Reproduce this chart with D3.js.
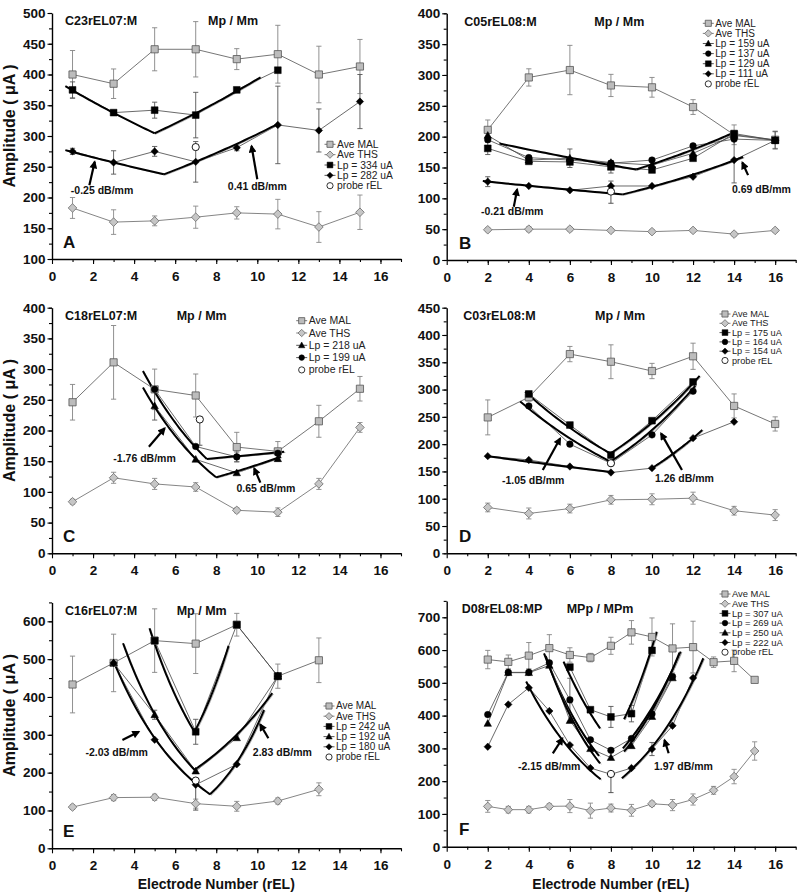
<!DOCTYPE html>
<html><head><meta charset="utf-8">
<script src="https://cdn.jsdelivr.net/npm/d3@7"></script>
<style>
body{margin:0;background:#fff;}
svg{display:block;font-family:"Liberation Sans",Arial,Helvetica,sans-serif;}
</style></head><body>
<svg id="chart" width="800" height="896"></svg>
<script>
// ================= DATA =================
// ---- Panel A ----
const A_el = [1,3,5,7,9,11,13,15];
const A_mal = [400,385,441,441,425,433,400,413];
const A_malErr = [39,24,35,45,17,47,46,44];
const A_ths = [183,160,162,168,175,173,152,176];
const A_thsErr = [17,20,8,18,10,24,25,28];
const A_lp334El = [1,3,5,7,9,11];
const A_lp334 = [375,338,342,334,375,407];
const A_lp334Err = [13,0,13,37,0,0];
const A_lp282 = [275,257,275,258,281,318,309,356];
const A_lp282Err = [5,19,8,33,5,63,35,44];
const A_probe = [7,282,0];
const A_fits = [[0.65,381,5.0,304.5],[5.0,304.5,10.16,395.5],[0.65,277,5.45,237.7],[5.45,237.7,11.06,320.6]];
const A_notes = [["-0.25 dB/mm",2.44,206,1.82,220,2.08,258],["0.41 dB/mm",10.0,212,10.0,229.6,9.72,283.7]];

// ---- Panel B ----
const B_el = [2,4,6,8,10,12,14,16];
const B_mal = [211,296,308,283,280,248,203,195];
const B_malErr = [16,14,40,18,16,12,16,14];
const B_ths = [49,50,50,48,46,48,42,48];
const B_thsErr = [3,4,3,3,3,3,3,3];
const B_lp159 = [202,162,165,158,154,173,202,194];
const B_lp159Err = [0,0,15,0,0,0,0,0];
const B_lp137 = [195,166,162,157,162,185,196,194];
const B_lp137Err = [0,0,0,0,0,0,0,0];
const B_lp129 = [181,160,159,151,146,165,205,194];
const B_lp129Err = [10,0,0,10,0,0,0,14];
const B_lp111 = [127,120,113,120,120,135,162,194];
const B_lp111Err = [8,0,0,8,0,0,37,0];
const B_probe = [8,111,19];
const B_fits = [[2.57,189,9.23,146.8],[9.23,146.8,13.87,205],[1.76,128,8.58,106.4],[8.58,106.4,14.44,167]];
const B_notes = [["-0.21 dB/mm",3.19,73,3.27,86.4,3.43,114.5],["0.69 dB/mm",15.33,108.5,14.68,137.6,14.4,158]];

// ---- Panel C ----
const C_el = [1,3,5,7,9,11,13,15];
const C_mal = [246,311,267,257,173,166,215,268];
const C_malErr = [29,60,33,35,24,16,26,20];
const C_ths = [84,123,113,108,70,67,113,205];
const C_thsErr = [4,9,9,7,4,7,9,8];
const C_lpEl = [5,7,9,11];
const C_lp218 = [240,153,131,154];
const C_lp218Err = [23,0,0,0];
const C_lp199 = [267,174,157,163];
const C_lp199Err = [0,0,8,0];
const C_probe = [7.2,218,42];
const C_fits = [[4.43,297,7.54,153.6],[7.54,153.6,11.31,165.5],[4.43,270,7.99,123.7],[7.99,123.7,11.15,157.3]];
const C_notes = [["-1.76 dB/mm",4.51,149,4.72,173.6,5.49,203.6],["0.65 dB/mm",10.42,100,10.15,115,9.85,138.4]];

// ---- Panel D ----
const D_el = [2,4,6,8,10,12,14,16];
const D_mal = [249,286,365,351,334,361,270,237];
const D_malErr = [32,7,14,31,14,24,22,13];
const D_ths = [84,73,82,98,99,101,78,70];
const D_thsErr = [8,10,8,8,10,11,8,10];
const D_lpEl = [4,6,8,10,12];
const D_lp175 = [292,235,180,243,314];
const D_lp164 = [270,200,165,217,297];
const D_lp154El = [2,4,6,8,10,12,14];
const D_lp154 = [178,171,159,148,156,211,241];
const D_probe = [8,165,0];
const D_fits = [[3.82,296,7.97,183],[7.97,183,12.32,325],[3.58,278,7.97,168],[7.97,168,12.11,307],[2.0,178,8.0,149],[10.0,156,12.45,226]];
const D_notes = [["-1.05 dB/mm",4.21,127,4.68,152.6,5.53,210.7],["1.26 dB/mm",11.58,130.6,11.46,152.6,10.44,219.8]];

// ---- Panel E ----
const E_el = [1,3,5,7,9,11,13];
const E_mal = [433,490,549,541,591,455,497];
const E_malErr = [75,76,84,79,30,32,59];
const E_ths = [109,134,135,118,111,125,156];
const E_thsErr = [6,8,8,12,13,8,17];
const E_lp242El = [5,7,9,11];
const E_lp242 = [549,308,591,455];
const E_lp242Err = [0,33,0,0];
const E_lpEl = [3,5,7,9,11];
const E_lp192 = [490,353,204,292,455];
const E_lp192Err = [0,12,0,0,0];
const E_lp180 = [490,287,168,222,455];
const E_probe = [7,179,78];
const E_fits = [[4.75,581.5,6.94,308],[6.94,308,8.6,535],[3.46,542,6.94,207.5],[6.94,207.5,10.73,410],[2.97,498,7.7,142.7],[7.7,142.7,10.33,365.6]];
const E_notes = [["-2.03 dB/mm",3.15,243,3.43,286,4.23,308],["2.83 dB/mm",11.22,243,10.54,290.8,10.14,327.8]];

// ---- Panel F ----
const F_el = [2,3,4,5,6,7,8,9,10,11,12,13,14,15];
const F_mal = [571,564,583,606,585,577,613,654,640,605,609,563,567,509];
const F_malErr = [28,21,40,41,22,13,26,36,58,75,79,16,33,0];
const F_ths = [123,113,113,123,124,110,118,111,131,127,144,172,214,292];
const F_thsErr = [18,10,10,8,20,23,12,18,8,17,17,12,22,28];
const F_lp307El = [6,7,8,9,10];
const F_lp307 = [548,418,396,406,599];
const F_lp307Err = [0,0,32,25,0];
const F_lpEl = [2,3,4,5,6,7,8,9,10,11];
const F_lp269 = [403,532,532,561,448,326,294,330,405,519];
const F_lp269Err = [0,0,0,0,66,0,0,0,0,0];
const F_lp250 = [376,531,531,553,385,299,272,308,397,515];
const F_lp222El = [2,3,4,5,6,7,8,9,10,11,12];
const F_lp222 = [305,434,485,414,310,240,221,240,298,369,515];
const F_lp222Err = [0,0,0,0,0,0,0,0,20,0,0];
const F_probe = [8,222,57];
const F_fits = [[5.69,565,7.47,361],[8.64,389,10.23,656],[4.74,590,7.42,277],[8.58,300,11.4,595],[4.82,582,7.47,254],[8.64,290,11.34,592],[3.87,504,7.5,205.5],[8.53,208.5,12.5,575]];
const F_notes = [["-2.15 dB/mm",4.99,234,5.17,285,5.64,330.8],["1.97 dB/mm",11.53,234,10.81,285,10.61,325.6]];

const xTickLabels = [0,2,4,6,8,10,12,14,16];

// ================= LAYOUT =================
const panels = [
 {letter:'A', title:'C23rEL07:M', mode:'Mp / Mm', left:52, top:13, bottom:259, yDom:[100,500], yMax:500, yStep:50, yMinor:25,
  titleX:65, modeX:208, legX:330, legY:144.3, legDy:10.35, legFs:10.3, yLabel:true, xLabel:false,
  series:[
   {name:'Ave MAL', kind:'mal', x:A_el, y:A_mal, e:A_malErr},
   {name:'Ave THS', kind:'ths', x:A_el, y:A_ths, e:A_thsErr},
   {name:'Lp = 334 uA', kind:'sq', x:A_lp334El, y:A_lp334, e:A_lp334Err},
   {name:'Lp = 282 uA', kind:'di', x:A_el, y:A_lp282, e:A_lp282Err}],
  probe:A_probe, fits:A_fits, notes:A_notes},
 {letter:'B', title:'C05rEL08:M', mode:'Mp / Mm', left:446.7, top:13.3, bottom:260, yDom:[0,400], yMax:400, yStep:50, yMinor:25,
  titleX:464.3, modeX:594.3, legX:708.3, legY:23.3, legDy:10.1, legFs:10, yLabel:false, xLabel:false,
  series:[
   {name:'Ave MAL', kind:'mal', x:B_el, y:B_mal, e:B_malErr},
   {name:'Ave THS', kind:'ths', x:B_el, y:B_ths, e:B_thsErr},
   {name:'Lp = 159 uA', kind:'tr', x:B_el, y:B_lp159, e:B_lp159Err},
   {name:'Lp = 137 uA', kind:'ci', x:B_el, y:B_lp137, e:B_lp137Err},
   {name:'Lp = 129 uA', kind:'sq', x:B_el, y:B_lp129, e:B_lp129Err},
   {name:'Lp = 111 uA', kind:'di', x:B_el, y:B_lp111, e:B_lp111Err}],
  probe:B_probe, fits:B_fits, notes:B_notes},
 {letter:'C', title:'C18rEL07:M', mode:'Mp / Mm', left:52, top:307.7, bottom:553.3, yDom:[0,400], yMax:400, yStep:50, yMinor:25,
  titleX:65, modeX:176.7, legX:301.7, legY:320.7, legDy:12.3, legFs:10.5, yLabel:true, xLabel:false,
  series:[
   {name:'Ave MAL', kind:'mal', x:C_el, y:C_mal, e:C_malErr},
   {name:'Ave THS', kind:'ths', x:C_el, y:C_ths, e:C_thsErr},
   {name:'Lp = 218 uA', kind:'tr', x:C_lpEl, y:C_lp218, e:C_lp218Err},
   {name:'Lp = 199 uA', kind:'ci', x:C_lpEl, y:C_lp199, e:C_lp199Err}],
  probe:C_probe, fits:C_fits, notes:C_notes},
 {letter:'D', title:'C03rEL08:M', mode:'Mp / Mm', left:446.7, top:307.7, bottom:553.3, yDom:[0,450], yMax:450, yStep:50, yMinor:25,
  titleX:463.3, modeX:595, legX:725, legY:314, legDy:9.3, legFs:9.2, yLabel:false, xLabel:false,
  series:[
   {name:'Ave MAL', kind:'mal', x:D_el, y:D_mal, e:D_malErr},
   {name:'Ave THS', kind:'ths', x:D_el, y:D_ths, e:D_thsErr},
   {name:'Lp = 175 uA', kind:'sq', x:D_lpEl, y:D_lp175, e:null},
   {name:'Lp = 164 uA', kind:'ci', x:D_lpEl, y:D_lp164, e:null},
   {name:'Lp = 154 uA', kind:'di', x:D_lp154El, y:D_lp154, e:null}],
  probe:D_probe, fits:D_fits, notes:D_notes},
 {letter:'E', title:'C16rEL07:M', mode:'Mp / Mm', left:52, top:602.4, bottom:848.3, yDom:[0,650], yMax:600, yStep:100, yMinor:50,
  titleX:65, modeX:176.7, legX:329, legY:706, legDy:10.2, legFs:10, yLabel:true, xLabel:true,
  series:[
   {name:'Ave MAL', kind:'mal', x:E_el, y:E_mal, e:E_malErr},
   {name:'Ave THS', kind:'ths', x:E_el, y:E_ths, e:E_thsErr},
   {name:'Lp = 242 uA', kind:'sq', x:E_lp242El, y:E_lp242, e:E_lp242Err},
   {name:'Lp = 192 uA', kind:'tr', x:E_lpEl, y:E_lp192, e:E_lp192Err},
   {name:'Lp = 180 uA', kind:'di', x:E_lpEl, y:E_lp180, e:null}],
  probe:E_probe, fits:E_fits, notes:E_notes},
 {letter:'F', title:'D08rEL08:MP', mode:'MPp / MPm', left:446.7, top:600.9, bottom:846.7, yDom:[0,750], yMax:700, yStep:100, yMinor:50,
  titleX:461.7, modeX:566.7, legX:725, legY:594, legDy:9.7, legFs:9.4, yLabel:false, xLabel:true,
  series:[
   {name:'Ave MAL', kind:'mal', x:F_el, y:F_mal, e:F_malErr},
   {name:'Ave THS', kind:'ths', x:F_el, y:F_ths, e:F_thsErr},
   {name:'Lp = 307 uA', kind:'sq', x:F_lp307El, y:F_lp307, e:F_lp307Err},
   {name:'Lp = 269 uA', kind:'ci', x:F_lpEl, y:F_lp269, e:F_lp269Err},
   {name:'Lp = 250 uA', kind:'tr', x:F_lpEl, y:F_lp250, e:null},
   {name:'Lp = 222 uA', kind:'di', x:F_lp222El, y:F_lp222, e:F_lp222Err}],
  probe:F_probe, fits:F_fits, notes:F_notes}
];

// ================= STYLES =================
const STY = {
  mal:{shape:'square',  s:3.6, fill:'#bcbcbc', stroke:'#555', sw:0.8, line:'#666', lw:0.9, err:'#858585'},
  ths:{shape:'diamond', s:4.3, fill:'#c6c6c6', stroke:'#6a6a6a', sw:0.8, line:'#777', lw:0.9, err:'#8a8a8a'},
  sq: {shape:'square',  s:3.4, fill:'#000', stroke:'#000', sw:0.5, line:'#444', lw:0.8, err:'#555'},
  ci: {shape:'circle',  s:3.3, fill:'#000', stroke:'#000', sw:0.5, line:'#444', lw:0.8, err:'#555'},
  tr: {shape:'triangle',s:3.4, fill:'#000', stroke:'#000', sw:0.5, line:'#444', lw:0.8, err:'#555'},
  di: {shape:'diamond', s:3.7, fill:'#000', stroke:'#000', sw:0.5, line:'#444', lw:0.8, err:'#555'}
};
function symPath(shape, s){
  if(shape==='square') return `M${-s},${-s}H${s}V${s}H${-s}Z`;
  if(shape==='diamond') return `M0,${-s}L${s},0L0,${s}L${-s},0Z`;
  if(shape==='triangle') return `M0,${-s*1.15}L${s*1.1},${s*0.85}L${-s*1.1},${s*0.85}Z`;
  return null;
}
function drawSym(g, st, cx, cy){
  if(st.shape==='circle'){
    g.append('circle').attr('cx',cx).attr('cy',cy).attr('r',st.s).attr('fill',st.fill).attr('stroke',st.stroke).attr('stroke-width',st.sw);
  } else {
    g.append('path').attr('d',symPath(st.shape,st.s)).attr('transform',`translate(${cx},${cy})`)
     .attr('fill',st.fill).attr('stroke',st.stroke).attr('stroke-width',st.sw);
  }
}

const svg = d3.select('#chart');
const defs = svg.append('defs');
defs.append('marker').attr('id','ah').attr('viewBox','0 0 10 10').attr('refX',8).attr('refY',5)
  .attr('markerWidth',4.2).attr('markerHeight',3.6).attr('orient','auto').attr('markerUnits','strokeWidth')
  .append('path').attr('d','M0,0L10,5L0,10Z').attr('fill','#000');

function expCurve(f){
  const [u1,v1,u2,v2] = f, n = 30;
  return d3.range(n+1).map(i => { const t = i/n; return [u1+(u2-u1)*t, v1*Math.pow(v2/v1,t)]; });
}

function drawPanel(p){
  const g = svg.append('g');
  const x = d3.scaleLinear().domain([0,17]).range([p.left, p.left+349]);
  const y = d3.scaleLinear().domain(p.yDom).range([p.bottom, p.top]);

  // ---- axes ----
  const xMinorAx = d3.axisBottom(x).tickValues(d3.range(1,18,1)).tickSize(3).tickSizeOuter(0).tickFormat('');
  const gxm = g.append('g').attr('transform',`translate(0,${p.bottom})`).call(xMinorAx);
  gxm.select('.domain').remove();
  const xAx = d3.axisBottom(x).tickValues(xTickLabels).tickSize(5).tickSizeOuter(0).tickPadding(7.5);
  const gx = g.append('g').attr('transform',`translate(0,${p.bottom})`).call(xAx);
  gx.selectAll('text').attr('font-size',13.5).attr('font-weight','bold').attr('fill','#111');

  const yMinorAx = d3.axisLeft(y).tickValues(d3.range(p.yDom[0], p.yDom[1]+0.01, p.yMinor)).tickSize(3).tickSizeOuter(0).tickFormat('');
  const gym = g.append('g').attr('transform',`translate(${p.left},0)`).call(yMinorAx);
  gym.select('.domain').remove();
  const yAx = d3.axisLeft(y).tickValues(d3.range(p.yDom[0], p.yMax+0.01, p.yStep)).tickSize(4.5).tickSizeOuter(0).tickPadding(2);
  const gy = g.append('g').attr('transform',`translate(${p.left},0)`).call(yAx);
  gy.selectAll('text').attr('font-size',13.5).attr('font-weight','bold').attr('fill','#111');
  g.selectAll('.domain').attr('stroke','#000').attr('stroke-width',1.4);
  g.selectAll('.tick line').attr('stroke','#000').attr('stroke-width',1.1);

  const line = d3.line().x(d=>x(d[0])).y(d=>y(d[1]));

  // ---- error bars ----
  const eg = g.append('g');
  function errBar(u, v, lo, hi, col){
    const cx = x(u);
    eg.append('line').attr('x1',cx).attr('x2',cx).attr('y1',y(v-lo)).attr('y2',y(v+hi)).attr('stroke',col).attr('stroke-width',0.9);
    if(hi>0) eg.append('line').attr('x1',cx-2.6).attr('x2',cx+2.6).attr('y1',y(v+hi)).attr('y2',y(v+hi)).attr('stroke',col).attr('stroke-width',0.9);
    if(lo>0) eg.append('line').attr('x1',cx-2.6).attr('x2',cx+2.6).attr('y1',y(v-lo)).attr('y2',y(v-lo)).attr('stroke',col).attr('stroke-width',0.9);
  }
  p.series.forEach(s => {
    if(!s.e) return;
    s.x.forEach((u,i)=>{ if(s.e[i]>0) errBar(u, s.y[i], s.e[i], s.e[i], STY[s.kind].err); });
  });
  if(p.probe[2]>0) errBar(p.probe[0], p.probe[1], p.probe[2], 0, '#444');

  // ---- connecting lines ----
  p.series.forEach(s => {
    const st = STY[s.kind];
    g.append('path').attr('d', line(s.x.map((u,i)=>[u,s.y[i]]))).attr('fill','none')
      .attr('stroke',st.line).attr('stroke-width',st.lw);
  });

  // ---- fit lines (log-linear, dB/mm) ----
  p.fits.forEach(f => {
    const pts = expCurve(f);
    g.append('path').attr('d', line(pts)).attr('fill','none').attr('stroke','#999').attr('stroke-width',0.8)
      .attr('transform','translate(1.2,0.8)');
    g.append('path').attr('d', line(pts)).attr('fill','none').attr('stroke','#000').attr('stroke-width',2).attr('stroke-linejoin','round');
  });

  // ---- markers ----
  p.series.forEach(s => {
    const st = STY[s.kind];
    s.x.forEach((u,i)=> drawSym(g, st, x(u), y(s.y[i])));
  });
  g.append('circle').attr('cx',x(p.probe[0])).attr('cy',y(p.probe[1])).attr('r',3.6)
    .attr('fill','#fff').attr('stroke','#000').attr('stroke-width',0.9);

  // ---- annotations ----
  p.notes.forEach(n => {
    const [t, tx, ty, x1, y1, x2, y2] = n;
    g.append('line').attr('x1',x(x1)).attr('y1',y(y1)).attr('x2',x(x2)).attr('y2',y(y2))
      .attr('stroke','#000').attr('stroke-width',2.2).attr('marker-end','url(#ah)');
    g.append('text').attr('x',x(tx)).attr('y',y(ty)).attr('text-anchor','middle')
      .attr('font-size',10.5).attr('font-weight','bold').attr('fill','#111').text(t);
  });

  // ---- titles ----
  g.append('text').attr('x',p.titleX).attr('y',p.top+12.3).attr('font-size',12.5).attr('font-weight','bold').attr('fill','#111').text(p.title);
  g.append('text').attr('x',p.modeX).attr('y',p.top+12.3).attr('font-size',12.5).attr('font-weight','bold').attr('fill','#111').text(p.mode);
  g.append('text').attr('x', p.left < 200 ? 63 : 459).attr('y',p.bottom-11.5).attr('font-size',17).attr('font-weight','bold').attr('fill','#111').text(p.letter);

  // ---- legend ----
  const lg = g.append('g');
  const entries = p.series.map(s => ({name:s.name, st:STY[s.kind], ln:true}));
  entries.push({name:'probe rEL', st:null, ln:false});
  entries.forEach((en,i) => {
    const cy = p.legY + i*p.legDy, cx = p.legX;
    if(en.ln){
      lg.append('line').attr('x1',cx-5.5).attr('x2',cx+5.5).attr('y1',cy).attr('y2',cy).attr('stroke',en.st.line).attr('stroke-width',0.9);
      drawSym(lg, Object.assign({}, en.st, {s: en.st.s*0.85}), cx, cy);
    } else {
      lg.append('circle').attr('cx',cx).attr('cy',cy).attr('r',3.1).attr('fill','#fff').attr('stroke','#000').attr('stroke-width',0.8);
    }
    lg.append('text').attr('x',cx+7).attr('y',cy+p.legFs*0.34).attr('font-size',p.legFs).attr('fill','#222').text(en.name);
  });

  // ---- axis titles ----
  if(p.yLabel){
    const cy = (p.top+p.bottom)/2 - 10;
    g.append('text').attr('transform',`translate(15,${cy}) rotate(-90)`).attr('text-anchor','middle')
      .attr('font-size',16).attr('font-weight','bold').attr('fill','#111').text('Amplitude ( \u03bcA )');
  }
  if(p.xLabel){
    g.append('text').attr('x',x(8)).attr('y',889).attr('text-anchor','middle')
      .attr('font-size',14).attr('font-weight','bold').attr('fill','#111').text('Electrode Number (rEL)');
  }
}
panels.forEach(drawPanel);
</script>
</body></html>
